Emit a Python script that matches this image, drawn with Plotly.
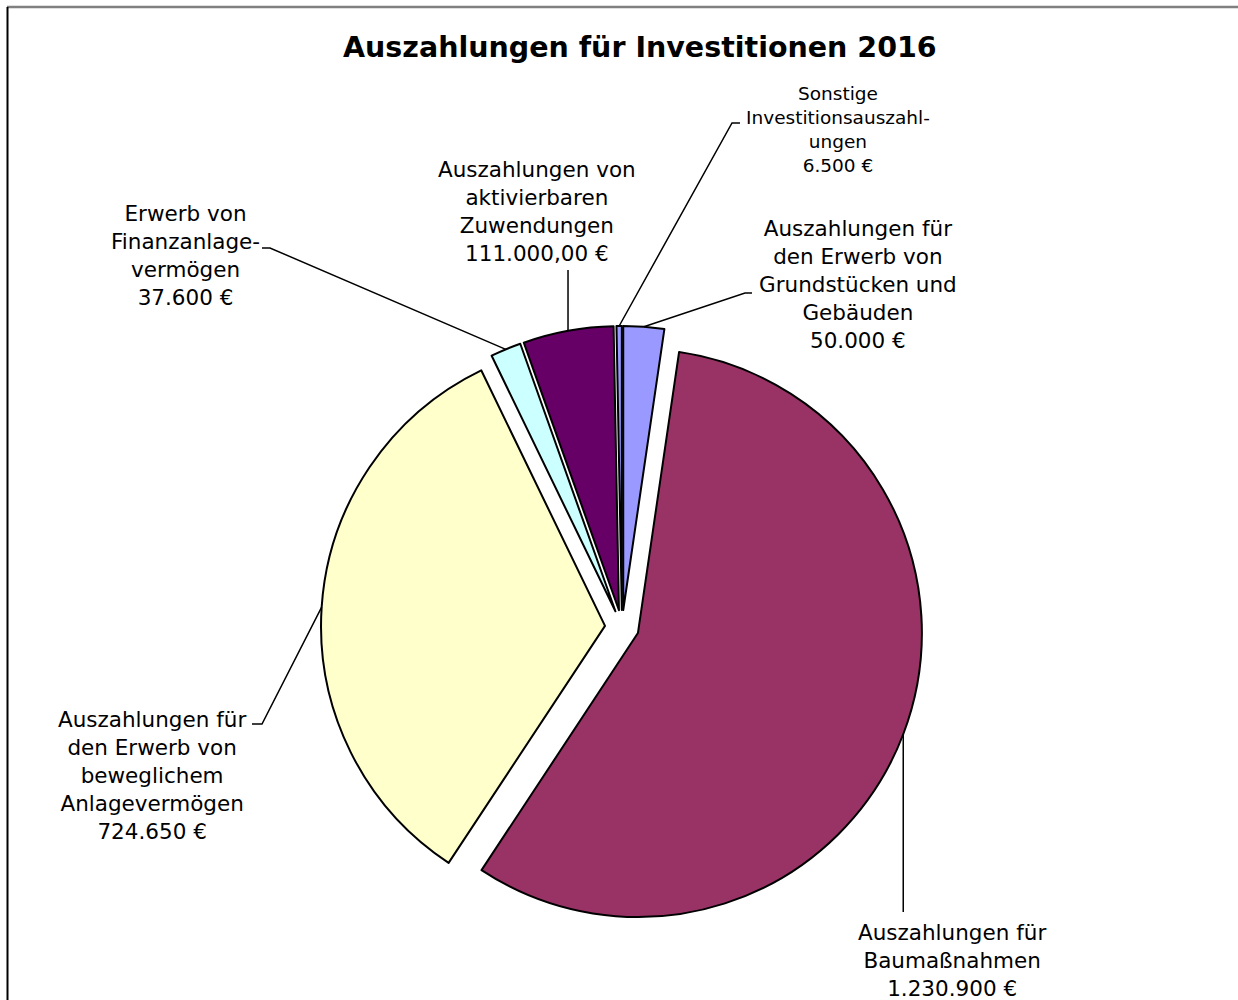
import math
import plotly.graph_objects as go

W, H = 1238, 1000

categories = [
    "Auszahlungen für den Erwerb von Grundstücken und Gebäuden",
    "Auszahlungen für Baumaßnahmen",
    "Auszahlungen für den Erwerb von beweglichem Anlagevermögen",
    "Erwerb von Finanzanlagevermögen",
    "Auszahlungen von aktivierbaren Zuwendungen",
    "Sonstige Investitionsauszahlungen",
]
values = [50000, 1230900, 724650, 37600, 111000, 6500]
label_texts = [
    "Auszahlungen für<br>den Erwerb von<br>Grundstücken und<br>Gebäuden<br>50.000 €",
    "Auszahlungen für<br>Baumaßnahmen<br>1.230.900 €",
    "Auszahlungen für<br>den Erwerb von<br>beweglichem<br>Anlagevermögen<br>724.650 €",
    "Erwerb von<br>Finanzanlage-<br>vermögen<br>37.600 €",
    "Auszahlungen von<br>aktivierbaren<br>Zuwendungen<br>111.000,00 €",
    "Sonstige<br>Investitionsauszahl-<br>ungen<br>6.500 €",
]
colors = ["#9999FF", "#993366", "#FFFFCC", "#CCFFFF", "#660066", "#9999FF"]

# layout geometry (pixels)
CX, CY = 622, 627
HALF = 301
PULL = 0.06
# label block centers and leader elbows / ends (pixels)
label_pos = [(858, 285), (952, 960), (152, 775), (185, 255), (537, 212), (838, 129)]
label_size = [21.5, 21.5, 21.5, 21.5, 21.5, 18.5]
leader_pts = [
    [(745, 293), (752, 293)],
    [None, (None, 912)],
    [(262, 724), (252, 724)],
    [(270, 248), (262, 248)],
    [None, (None, 270)],
    [(732, 123), (740, 123)],
]

def px(x):
    return x / W

def py(y):
    return 1 - y / H

fig = go.Figure(go.Pie(
    labels=categories,
    values=values,
    sort=False,
    direction="clockwise",
    rotation=0,
    pull=[PULL] * len(values),
    marker=dict(colors=colors, line=dict(color="black", width=2)),
    textinfo="none",
    hoverinfo="label+value",
    domain=dict(x=[px(CX - HALF), px(CX + HALF)], y=[py(CY + HALF), py(CY - HALF)]),
    showlegend=False,
))

total = sum(values)
cum = 0
shapes = []
annotations = []
for i, v in enumerate(values):
    mid = (cum + v / 2) / total
    cum += v
    th = 2 * math.pi * mid
    ax = CX + HALF * math.sin(th)
    ay = CY - HALF * math.cos(th)
    pts = [(ax, ay)]
    for p in leader_pts[i]:
        if p is None:
            continue
        x, y = p
        if x is None:
            x = ax
        pts.append((x, y))
    path = "M " + " L ".join(f"{px(x):.5f},{py(y):.5f}" for x, y in pts)
    shapes.append(dict(type="path", xref="paper", yref="paper", path=path,
                       line=dict(color="black", width=1.5)))
    lx, ly = label_pos[i]
    annotations.append(dict(
        x=px(lx), y=py(ly), xref="paper", yref="paper",
        text=label_texts[i], showarrow=False, align="center",
        xanchor="center", yanchor="middle",
        font=dict(family="DejaVu Sans", size=label_size[i], color="black"),
    ))

annotations.append(dict(
    x=px(640), y=py(47), xref="paper", yref="paper",
    text="<b>Auszahlungen für Investitionen 2016</b>", showarrow=False,
    xanchor="center", yanchor="middle",
    font=dict(family="DejaVu Sans", size=28.5, color="black"),
))

# frame
shapes.append(dict(type="line", xref="paper", yref="paper",
                   x0=px(7), y0=py(7), x1=1, y1=py(7),
                   line=dict(color="#808080", width=2.5)))
shapes.append(dict(type="line", xref="paper", yref="paper",
                   x0=px(7.5), y0=py(7), x1=px(7.5), y1=0,
                   line=dict(color="black", width=2)))

fig.update_layout(
    width=W, height=H,
    margin=dict(l=0, r=0, t=0, b=0),
    paper_bgcolor="white", plot_bgcolor="white",
    shapes=shapes, annotations=annotations,
    font=dict(family="DejaVu Sans", color="black"),
)

fig.write_html("out.html", config={"displayModeBar": False},
               post_script="document.body.style.margin='0';document.body.style.overflow='hidden';")
